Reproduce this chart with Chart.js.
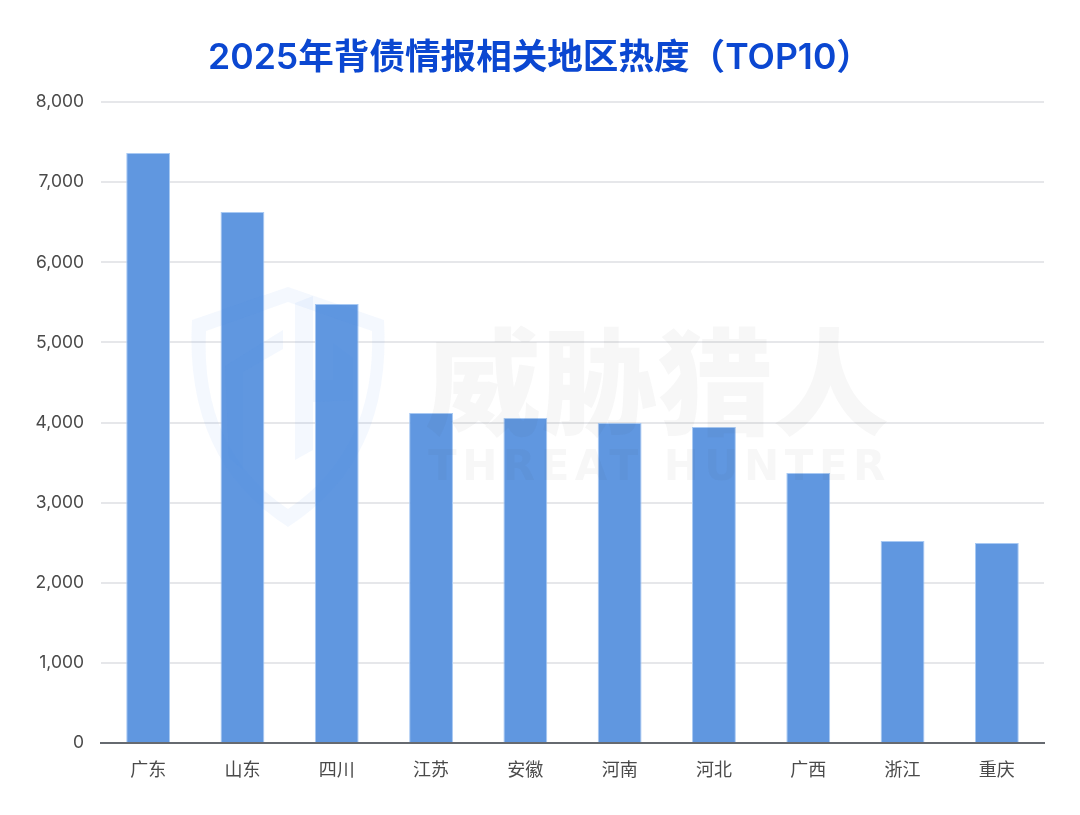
<!DOCTYPE html>
<html>
<head>
<meta charset="utf-8">
<style>
  html, body { margin: 0; padding: 0; background: #fff; }
  canvas { display: block; }
</style>
<script src="https://cdn.jsdelivr.net/npm/chart.js@4"></script>
</head>
<body>
<canvas id="regionChart" width="1080" height="815"></canvas>
<script>
const chartTitle = '2025年背债情报相关地区热度（TOP10）';
const regions = ['广东', '山东', '四川', '江苏', '安徽', '河南', '河北', '广西', '浙江', '重庆'];
const heatValues = [7363, 6627, 5479, 4118, 4056, 3994, 3944, 3370, 2521, 2496];
const watermarkCn = '威胁猎人';
const watermarkEn = 'THREAT HUNTER';

const FONT = '"Noto Sans CJK SC", "Noto Sans", sans-serif';
const LATIN_FONT = '"Inter", "Noto Sans CJK SC", sans-serif';

function poly(c, pts) {
  c.moveTo(pts[0][0], pts[0][1]);
  pts.slice(1).forEach(p => c.lineTo(p[0], p[1]));
  c.closePath();
}

// faint logo and company name, drawn over the bars like the original
const watermark = {
  id: 'watermark',
  afterDatasetsDraw(chart) {
    const c = chart.ctx;
    c.save();
    c.fillStyle = 'rgba(70, 130, 230, 0.06)';

    // shield outline
    c.beginPath();
    c.moveTo(288, 287);
    c.lineTo(384, 320);
    c.quadraticCurveTo(392, 460, 288, 527);
    c.quadraticCurveTo(184, 460, 192, 320);
    c.closePath();
    c.moveTo(288, 302);
    c.lineTo(206, 331);
    c.quadraticCurveTo(200, 450, 288, 509);
    c.quadraticCurveTo(376, 450, 372, 331);
    c.closePath();
    c.fill('evenodd');

    // inner strokes of the logo
    c.beginPath();
    poly(c, [[295, 303], [313, 296], [313, 450], [295, 460]]);
    poly(c, [[283, 330], [283, 349], [243, 372], [243, 470], [229, 458], [225, 366]]);
    poly(c, [[333, 343], [353, 358], [353, 400], [313, 402], [313, 380], [333, 380]]);
    c.fill();

    c.fillStyle = 'rgba(60, 60, 60, 0.045)';
    c.textAlign = 'left';
    c.textBaseline = 'middle';
    c.font = '900 116px ' + FONT;
    c.fillText(watermarkCn, 425, 382);
    c.font = '700 42px "DejaVu Sans", sans-serif';
    c.letterSpacing = '5.5px';
    c.fillText(watermarkEn, 428, 469);
    c.restore();
  }
};

new Chart(document.getElementById('regionChart'), {
  type: 'bar',
  data: {
    labels: regions,
    datasets: [{
      data: heatValues,
      backgroundColor: '#6097e0',
      borderColor: '#a8c9f3',
      borderWidth: { left: 1, right: 1, top: 1, bottom: 0 },
      barPercentage: 0.465,
      categoryPercentage: 1
    }]
  },
  options: {
    responsive: false,
    animation: false,
    layout: { padding: { top: 37, right: 36, left: 36, bottom: 0 } },
    plugins: {
      legend: { display: false },
      tooltip: { enabled: false },
      title: {
        display: true,
        text: chartTitle,
        color: '#0b47d1',
        font: { family: LATIN_FONT, size: 35.6, weight: '600' },
        padding: { top: 0, bottom: 22.3 }
      }
    },
    scales: {
      x: {
        afterFit(scale) { scale.height = 72; },
        grid: { display: false },
        border: { color: '#666a70', width: 2 },
        ticks: { color: '#4a4a4a', padding: 7, maxRotation: 0, font: { family: FONT, size: 18 } }
      },
      y: {
        min: 0,
        max: 8000,
        afterFit(scale) { scale.width = 65; },
        border: { display: false },
        grid: { color: '#e6e7ea', lineWidth: 2, drawTicks: false },
        ticks: {
          stepSize: 1000,
          color: '#4a4a4a',
          padding: 17,
          font: { family: '"Inter", sans-serif', size: 17.5 },
          callback: v => v.toLocaleString('en-US')
        }
      }
    }
  },
  plugins: [watermark]
});
</script>
</body>
</html>
